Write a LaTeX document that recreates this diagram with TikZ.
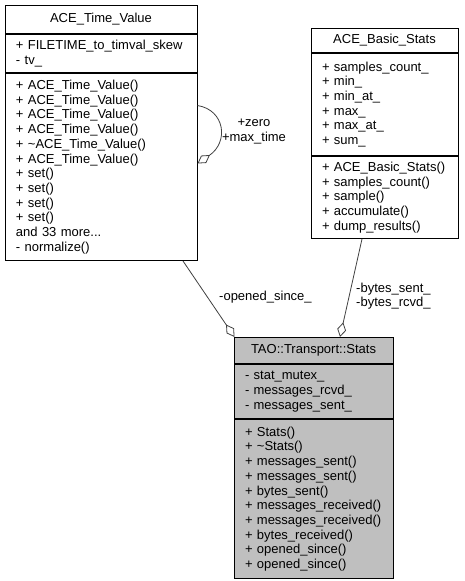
\documentclass[tikz,border=0pt]{standalone}
\usepackage{fontspec}
\setmainfont{Liberation Sans}
\usepackage{tikz}
\usetikzlibrary{arrows.meta, positioning}
\definecolor{edgegray}{HTML}{404040}
\definecolor{boxgray}{HTML}{BFBFBF}
\tikzset{
  umlpart/.style={draw=black, line width=1pt, inner xsep=11pt, inner ysep=0pt,
    align=left, anchor=north},
  umlhead/.style={umlpart, align=center},
  agg/.style={draw=edgegray, line width=0.8pt, {Diamond[open,length=15pt,width=9pt]}-},
  edgelabel/.style={inner sep=0pt}
}

\begin{document}
\begin{tikzpicture}[x=1pt, y=-1pt, font=\fontsize{13}{14.7}\selectfont]
  \useasboundingbox (0,0) rectangle (464,581);

  % ACE_Time_Value
  \node[umlhead, text width=170pt, minimum height=28pt] (tvtitle) at (101,5) {ACE\_Time\_Value};
  \node[umlpart, text width=170pt, minimum height=38pt, below=0pt of tvtitle] (tvattr)
    {+ FILETIME\_to\_timval\_skew\\- tv\_};
  \node[umlpart, text width=170pt, minimum height=187pt, below=0pt of tvattr] (tvmeth)
    {+ ACE\_Time\_Value()\\+ ACE\_Time\_Value()\\+ ACE\_Time\_Value()\\+ ACE\_Time\_Value()\\
     + \textasciitilde ACE\_Time\_Value()\\+ ACE\_Time\_Value()\\+ set()\\+ set()\\+ set()\\+ set()\\
     and 33 more...\\- normalize()};

  % ACE_Basic_Stats
  \node[umlhead, text width=125pt, minimum height=24pt] (bstitle) at (384.5,28) {ACE\_Basic\_Stats};
  \node[umlpart, text width=125pt, minimum height=102pt, below=0pt of bstitle] (bsattr)
    {+ samples\_count\_\\+ min\_\\+ min\_at\_\\+ max\_\\+ max\_at\_\\+ sum\_};
  \node[umlpart, text width=125pt, minimum height=82pt, below=0pt of bsattr] (bsmeth)
    {+ ACE\_Basic\_Stats()\\+ samples\_count()\\+ sample()\\+ accumulate()\\+ dump\_results()};

  % TAO::Transport::Stats
  \node[umlhead, fill=boxgray, text width=137pt, minimum height=26pt] (stitle) at (313.5,337)
    {TAO::Transport::Stats};
  \node[umlpart, fill=boxgray, text width=137pt, minimum height=54pt, below=0pt of stitle] (sattr)
    {- stat\_mutex\_\\- messages\_rcvd\_\\- messages\_sent\_};
  \node[umlpart, fill=boxgray, text width=137pt, minimum height=159pt, below=0pt of sattr] (smeth)
    {+ Stats()\\+ \textasciitilde Stats()\\+ messages\_sent()\\+ messages\_sent()\\+ bytes\_sent()\\
     + messages\_received()\\+ messages\_received()\\+ bytes\_received()\\+ opened\_since()\\+ opened\_since()};

  % Aggregations
  \draw[agg] ([yshift=3.5pt]tvmeth.east) .. controls (229,142) and (225,110) .. ([yshift=61.5pt]tvmeth.east);
  \node[edgelabel, align=center] (lblzero) at (254,131.5) {+zero\\+max\_time};

  \draw[agg] ([xshift=-79pt]stitle.north) -- ([xshift=82pt]tvmeth.south);
  \node[edgelabel, anchor=west] (lblopen) at (219,297) {-opened\_since\_};

  \draw[agg] ([xshift=26.5pt]stitle.north) -- ([xshift=-22.5pt]bsmeth.south);
  \node[edgelabel, anchor=west, align=left] (lblbytes) at (356,296) {-bytes\_sent\_\\-bytes\_rcvd\_};
\end{tikzpicture}
\end{document}
